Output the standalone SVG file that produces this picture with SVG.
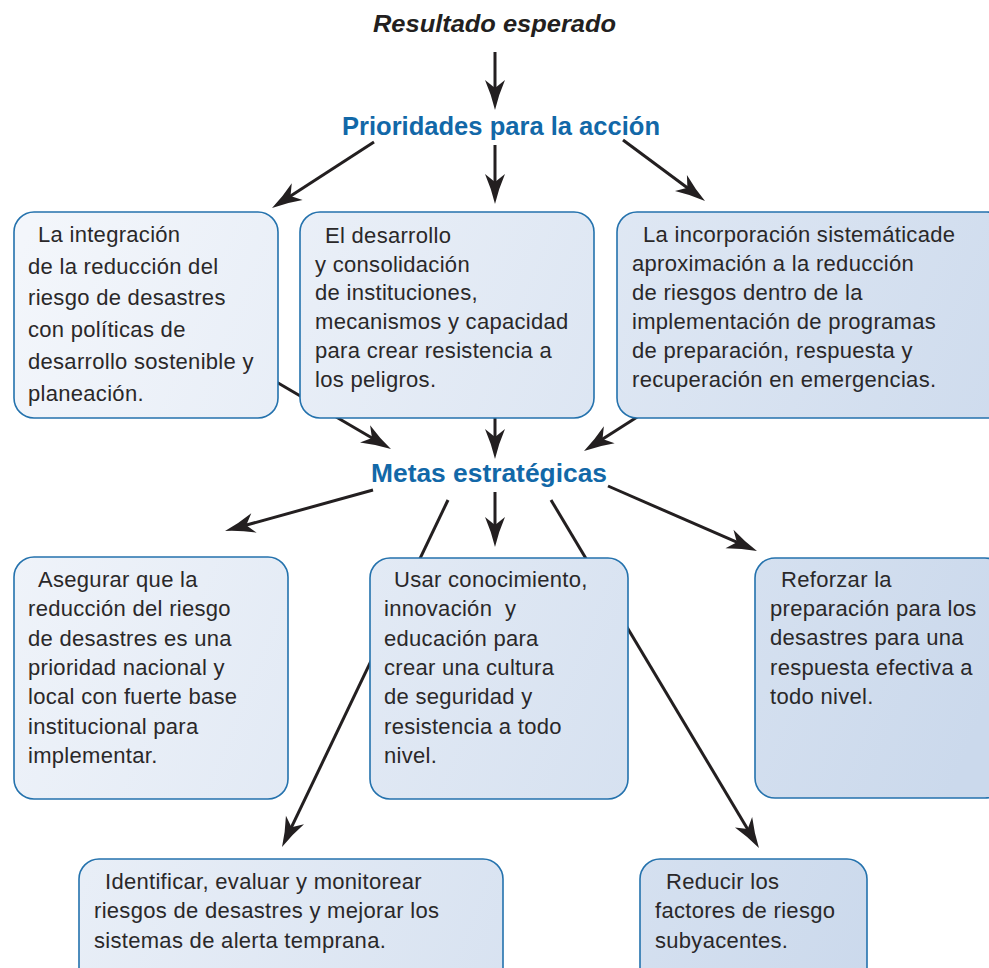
<svg xmlns="http://www.w3.org/2000/svg" width="989" height="968" viewBox="0 0 989 968">
<style>
.box{stroke:#2472ad;stroke-width:1.6;fill:url(#bg)}
.t{font-family:"Liberation Sans",Arial,Helvetica,sans-serif;font-size:22px;fill:#2a2829;letter-spacing:0.3px}
.h{font-family:"Liberation Sans",Arial,Helvetica,sans-serif;font-weight:bold;font-size:25px;fill:#1268a8}
.c{stroke:#231f20;stroke-width:3;fill:none;marker-end:url(#ah)}
</style>
<defs>
<linearGradient id="bg" gradientUnits="userSpaceOnUse" x1="0" y1="300" x2="989" y2="700">
<stop offset="0" stop-color="#f3f6fb"/>
<stop offset="1" stop-color="#cbd9ec"/>
</linearGradient>
<marker id="ah" markerUnits="userSpaceOnUse" markerWidth="32" markerHeight="22" refX="18" refY="10" orient="auto" overflow="visible">
<path d="M30,10 Q15,6.5 0,0 L8,10 L0,20 Q15,13.5 30,10 Z" fill="#231f20"/>
</marker>
</defs>
<rect width="989" height="968" fill="#ffffff"/>

<g id="connectors">
<line class="c" x1="495" y1="52" x2="495" y2="98"/>
<line class="c" x1="374" y1="142" x2="282.1" y2="201.5"/>
<line class="c" x1="495" y1="145" x2="495" y2="192"/>
<line class="c" x1="623" y1="140" x2="695.4" y2="193.8"/>
<line class="c" x1="270" y1="378.3" x2="380.6" y2="443"/>
<line class="c" x1="495" y1="410" x2="495" y2="447"/>
<line class="c" x1="645" y1="411.9" x2="594.1" y2="444.5"/>
<line class="c" x1="373" y1="490" x2="236.6" y2="527.8"/>
<line class="c" x1="495" y1="492" x2="495" y2="535"/>
<line class="c" x1="608" y1="486" x2="746" y2="546.2"/>
<line class="c" x1="448" y1="500" x2="287.2" y2="836.2"/>
<line class="c" x1="551" y1="500" x2="752.8" y2="837.7"/>
</g>

<g id="resultado">
<text x="494.5" y="32" text-anchor="middle" font-family="'Liberation Sans',Arial,sans-serif" font-weight="bold" font-style="italic" font-size="24" fill="#231f20" textLength="243" lengthAdjust="spacingAndGlyphs">Resultado esperado</text>
</g>
<g id="prioridades">
<text class="h" x="501" y="135" text-anchor="middle" textLength="318" lengthAdjust="spacingAndGlyphs">Prioridades para la acción</text>
</g>
<g id="metas">
<text class="h" x="489" y="482" text-anchor="middle" textLength="236" lengthAdjust="spacingAndGlyphs">Metas estratégicas</text>
</g>

<g id="p1">
<rect class="box" x="14" y="212" width="264" height="206" rx="20"/>
<text class="t"><tspan x="38" y="242">La integración</tspan><tspan x="28" y="274">de la reducción del</tspan><tspan x="28" y="305">riesgo de desastres</tspan><tspan x="28" y="337">con políticas de</tspan><tspan x="28" y="369">desarrollo sostenible y</tspan><tspan x="28" y="401">planeación.</tspan></text>
</g>
<g id="p2">
<rect class="box" x="300" y="212" width="294" height="206" rx="20"/>
<text class="t"><tspan x="325" y="243">El desarrollo</tspan><tspan x="315" y="272">y consolidación</tspan><tspan x="315" y="300">de instituciones,</tspan><tspan x="315" y="329">mecanismos y capacidad</tspan><tspan x="315" y="358">para crear resistencia a</tspan><tspan x="315" y="387">los peligros.</tspan></text>
</g>
<g id="p3">
<rect class="box" x="617" y="212" width="390" height="206" rx="20"/>
<text class="t"><tspan x="643" y="242">La incorporación sistemáticade</tspan><tspan x="632" y="271">aproximación a la reducción</tspan><tspan x="632" y="300">de riesgos dentro de la</tspan><tspan x="632" y="329">implementación de programas</tspan><tspan x="632" y="358">de preparación, respuesta y</tspan><tspan x="632" y="387">recuperación en emergencias.</tspan></text>
</g>

<g id="m1">
<rect class="box" x="14" y="557" width="274" height="242" rx="20"/>
<text class="t"><tspan x="38" y="587">Asegurar que la</tspan><tspan x="28" y="616">reducción del riesgo</tspan><tspan x="28" y="646">de desastres es una</tspan><tspan x="28" y="675">prioridad nacional y</tspan><tspan x="28" y="704">local con fuerte base</tspan><tspan x="28" y="734">institucional para</tspan><tspan x="28" y="763">implementar.</tspan></text>
</g>
<g id="m2">
<rect class="box" x="370" y="558" width="258" height="241" rx="20"/>
<text class="t" style="white-space:pre"><tspan x="394" y="587">Usar conocimiento,</tspan><tspan x="384" y="616">innovación  y</tspan><tspan x="384" y="646">educación para</tspan><tspan x="384" y="675">crear una cultura</tspan><tspan x="384" y="704">de seguridad y</tspan><tspan x="384" y="734">resistencia a todo</tspan><tspan x="384" y="763">nivel.</tspan></text>
</g>
<g id="m3">
<rect class="box" x="755" y="558" width="250" height="240" rx="20"/>
<text class="t"><tspan x="781" y="587">Reforzar la</tspan><tspan x="770" y="616">preparación para los</tspan><tspan x="770" y="645">desastres para una</tspan><tspan x="770" y="675">respuesta efectiva a</tspan><tspan x="770" y="704">todo nivel.</tspan></text>
</g>

<g id="m4">
<rect class="box" x="79" y="859" width="424" height="130" rx="20"/>
<text class="t"><tspan x="105" y="889">Identificar, evaluar y monitorear</tspan><tspan x="94" y="918">riesgos de desastres y mejorar los</tspan><tspan x="94" y="948">sistemas de alerta temprana.</tspan></text>
</g>
<g id="m5">
<rect class="box" x="640" y="859" width="227" height="130" rx="20"/>
<text class="t"><tspan x="666" y="889">Reducir los</tspan><tspan x="655" y="918">factores de riesgo</tspan><tspan x="655" y="948">subyacentes.</tspan></text>
</g>
</svg>
